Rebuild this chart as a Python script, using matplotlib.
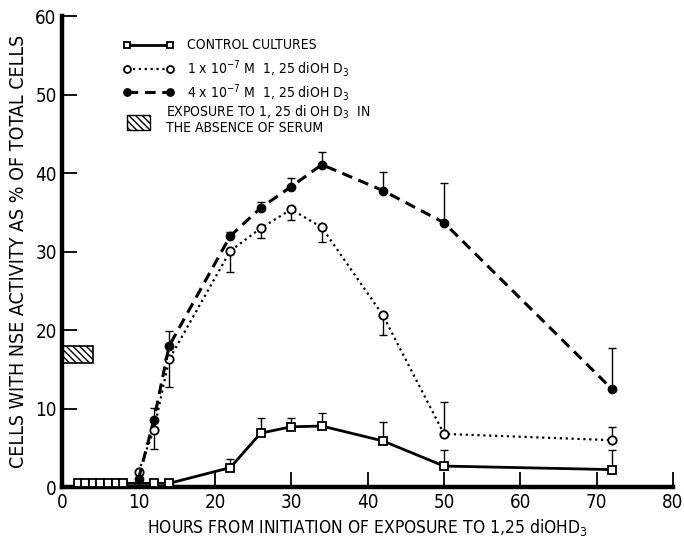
import matplotlib
matplotlib.use("Agg")
import matplotlib.pyplot as plt
from matplotlib.lines import Line2D
from matplotlib.patches import Rectangle
from matplotlib import font_manager

names = {f.name for f in font_manager.fontManager.ttflist}
fam = "Liberation Sans Narrow" if "Liberation Sans Narrow" in names else "DejaVu Sans"
plt.rcParams['font.family'] = [fam, 'DejaVu Sans']
plt.rcParams['font.stretch'] = 'condensed'
plt.rcParams['mathtext.fontset'] = 'custom'
plt.rcParams['mathtext.rm'] = fam + ':stretch=condensed'
plt.rcParams['mathtext.it'] = fam + ':stretch=condensed'

# ---- data ----
control_x = [2, 3, 4, 5, 6, 7, 8, 12, 14, 22, 26, 30, 34, 42, 50, 72]
control_y = [0.5, 0.5, 0.5, 0.5, 0.5, 0.5, 0.5, 0.5, 0.5, 2.5, 6.9, 7.7, 7.8, 5.9, 2.7, 2.25]
control_err_up = [0, 0, 0, 0, 0, 0, 0, 0, 0, 1.1, 1.9, 1.1, 1.65, 2.4, 2.0, 2.45]

dose_x = [10, 12, 14, 22, 26, 30, 34, 42, 50, 72]
low_y = [2.0, 7.3, 16.3, 30.1, 33.0, 35.4, 33.1, 21.9, 6.8, 6.0]
low_err_down = [0, 2.4, 3.5, 2.7, 1.3, 1.4, 1.8, 2.5, 0, 0]
low_err_up = [0, 0, 0, 0, 0, 0, 0, 0, 4.0, 1.7]

high_y = [1.1, 8.6, 18.0, 32.0, 35.6, 38.3, 41.1, 37.8, 33.7, 12.5]
high_err_up = [0, 1.5, 1.9, 0.5, 0.7, 1.1, 1.6, 2.3, 5.1, 5.3]

serum_x = [0, 4]
serum_y = [15.8, 18.0]

x_ticks = [0, 10, 20, 30, 40, 50, 60, 70, 80]
y_ticks = [0, 10, 20, 30, 40, 50, 60]

fig = plt.figure(figsize=(6.84, 5.42), dpi=100)
ax = fig.add_axes([0.091, 0.101, 0.893, 0.869])

ebkw = dict(ecolor='black', elinewidth=1.0, capsize=3, capthick=1.0, fmt='none', zorder=2)
ax.errorbar(control_x, control_y, yerr=[[0]*len(control_x), control_err_up], **ebkw)
ax.errorbar(dose_x, low_y, yerr=[low_err_down, low_err_up], **ebkw)
ax.errorbar(dose_x, high_y, yerr=[[0]*len(dose_x), high_err_up], **ebkw)

ax.plot(control_x, control_y, '-', color='black', lw=2.0, marker='s', ms=5.5,
        mfc='white', mec='black', mew=1.3, zorder=3)
ax.plot(dose_x, low_y, ':', color='black', lw=1.6, marker='o', ms=6,
        mfc='white', mec='black', mew=1.3, zorder=3)
ax.plot(dose_x, high_y, color='black', lw=2.2, dashes=(3.5, 2.2), marker='o', ms=6,
        mfc='black', mec='black', mew=1.0, zorder=4)

ax.add_patch(Rectangle((serum_x[0], serum_y[0]), serum_x[1] - serum_x[0], serum_y[1] - serum_y[0],
                       facecolor='white', edgecolor='black', hatch='\\\\\\\\\\', lw=1.2, zorder=2))

ax.set_xlim(0, 80)
ax.set_ylim(0, 60)
ax.set_xticks(x_ticks)
ax.set_yticks(y_ticks)
for s in ['top', 'right']:
    ax.spines[s].set_visible(False)
for s in ['left', 'bottom']:
    ax.spines[s].set_linewidth(3.2)
ax.tick_params(direction='in', length=11, width=1.3, labelsize=13.5, pad=4)
ax.tick_params(axis='y', pad=4)

ax.set_xlabel('HOURS FROM INITIATION OF EXPOSURE TO 1,25 diOHD$_3$', fontsize=12.5, labelpad=4)
ax.set_ylabel('CELLS WITH NSE ACTIVITY AS % OF TOTAL CELLS', fontsize=14, labelpad=5)

# ---- legend (drawn manually, figure pixel coordinates) ----
W, H = 684, 542
def fx(px): return px / W
def fy(py): return 1 - py / H

leg_items = [
    (45, dict(ls='-', lw=2.0, marker='s', mfc='white'), 'CONTROL CULTURES'),
    (69, dict(ls=':', lw=1.6, marker='o', mfc='white'), '1 x 10$^{-7}$ M  1, 25 diOH D$_3$'),
    (92, dict(ls='--', lw=2.2, marker='o', mfc='black', dashes=(3.5, 2.2)), '4 x 10$^{-7}$ M  1, 25 diOH D$_3$'),
]
for py, style, label in leg_items:
    ln = Line2D([fx(127), fx(170)], [fy(py), fy(py)], transform=fig.transFigure, color='black',
                ms=5, mec='black', mew=1.3, markevery=[0, 1], **style)
    fig.add_artist(ln)
    fig.text(fx(187), fy(py), label, fontsize=10, va='center', ha='left')

fig.add_artist(Rectangle((fx(127), fy(130)), fx(150) - fx(127), fy(115) - fy(130),
                         transform=fig.transFigure, facecolor='white', edgecolor='black',
                         hatch='\\\\\\\\\\', lw=1.0))
fig.text(fx(166), fy(112), 'EXPOSURE TO 1, 25 di OH D$_3$  IN', fontsize=10, va='center', ha='left')
fig.text(fx(166), fy(128), 'THE ABSENCE OF SERUM', fontsize=10, va='center', ha='left')

fig.savefig('out.png', dpi=100)
